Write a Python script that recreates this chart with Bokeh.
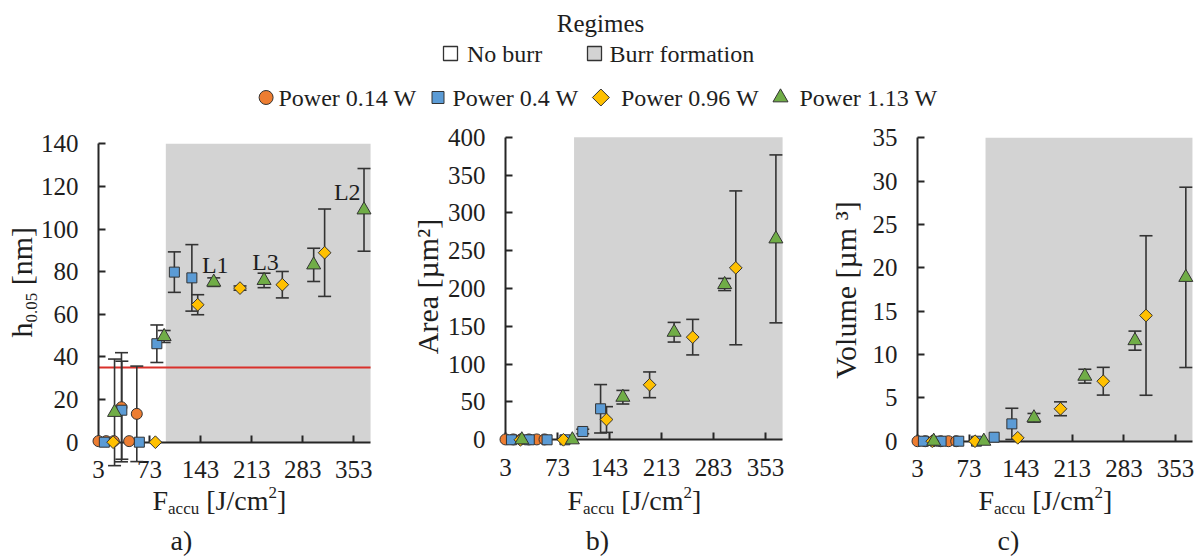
import numpy as np
from bokeh.plotting import figure
from bokeh.models import Range1d, FixedTicker
from bokeh.layouts import column, row
from bokeh.core.properties import value
from bokeh.embed import file_html
from bokeh.resources import INLINE

# ---------------- data ----------------
X_TICKS = [3, 73, 143, 213, 283, 353]
X_MIN, X_MAX = 3, 376
BURR_START = 95.3
H_THRESHOLD = 35

SERIES = ["Power 0.14 W", "Power 0.4 W", "Power 0.96 W", "Power 1.13 W"]
COLORS = ["#ED7D31", "#5B9BD5", "#FFC000", "#70AD47"]
REGIMES = ["No burr", "Burr formation"]

F_014 = [3, 13.5, 24, 34.5, 45, 55.5]
F_04 = [11, 35, 59, 83, 107, 131]
F_096 = [23, 81, 139, 197, 255, 313]
F_113 = [25, 93, 161, 230, 298, 367]

H_014 = [0.5, 0.5, 0.5, 16.4, 0.5, 13.3]
H_014_ERR = [0, 0, 0, 25.6, 0, 22.4]
H_04 = [0, 15, 0, 46.2, 79.8, 77.1]
H_04_ERR = [0, 23, 0, 8.8, 9.5, 15.6]
H_096 = [0, 0, 64.5, 72.3, 73.9, 88.9]
H_096_ERR = [0, 0, 4.7, 1, 6.2, 20.5]
H_113 = [14, 49.6, 75.1, 75.9, 83.2, 109]
H_113_ERR = [25, 2.8, 2, 3.4, 7.8, 19.4]

A_014 = [0.5, 0.5, 0.5, 0.5, 0.5, 0.5]
A_014_ERR = [0, 0, 0, 0, 0, 0]
A_04 = [0, 0, 0, 0, 11, 41]
A_04_ERR = [0, 0, 0, 0, 3, 32]
A_096 = [0, 0, 26.8, 72.7, 135.7, 227.3]
A_096_ERR = [0, 0, 17, 17, 23.5, 101.7]
A_113 = [0, 0, 56.3, 142.2, 205.3, 265.6]
A_113_ERR = [0, 0, 9, 13, 8, 111]

V_014 = [0, 0, 0, 0, 0, 0]
V_014_ERR = [0, 0, 0, 0, 0, 0]
V_04 = [0, 0, 0, 0, 0.46, 2.0]
V_04_ERR = [0, 0, 0, 0, 0, 1.8]
V_096 = [0, 0, 0.39, 3.74, 6.92, 14.5]
V_096_ERR = [0, 0, 0, 0.8, 1.6, 9.2]
V_113 = [0, 0, 2.7, 7.5, 11.6, 18.9]
V_113_ERR = [0, 0, 0.5, 0.8, 1.1, 10.4]

LABELS_L = ["L1", "L3", "L2"]
LABELS_L_X = [163, 232, 344]
LABELS_L_Y = [83, 84.5, 117.3]

# ---------------- style ----------------
FONT = "Liberation Serif"
TXT = "#1e1e1e"
AXC = "#262626"
GRAY = "#d3d3d3"
EDGE = "#333333"
NB = "\u00a0"
MID = 0.3375  # distance baseline -> em-box middle, in em
MARKERS = [dict(marker="circle", size=11, angle=0),
           dict(marker="square", size=10, angle=0),
           dict(marker="square", size=9, angle=np.pi / 4),
           dict(marker="triangle", size=14, angle=0)]

TOP_PX, BOT_PX = 125, 557
W = {'F': 556, 'a': 444, 'c': 444, 'u': 500, ' ': 250, NB: 250, '[': 333, 'J': 389, '/': 278,
     'm': 778, '2': 500, ']': 333, 'h': 500, '0': 500, '.': 250, '5': 500, 'n': 500}


def tw(s, size):
    return sum(W[c] for c in s) / 1000 * size


def make_panel(left, width, ax_px, x353_px, y0_px, ytop_px, ymax):
    kx = (x353_px - ax_px) / (353 - X_MIN)
    ky = (y0_px - ytop_px) / ymax

    def X(px):
        return X_MIN + (px - ax_px) / kx

    def Y(py):
        return (y0_px - py) / ky

    p = figure(width=width, height=BOT_PX - TOP_PX,
               x_range=Range1d(X(left), X(left + width)),
               y_range=Range1d(Y(BOT_PX), Y(TOP_PX)),
               output_backend="svg", toolbar_location=None, min_border=0)
    p.outline_line_color = None
    p.grid.visible = False
    p.background_fill_color = "white"
    p.quad(left=[BURR_START], right=[X_MAX], bottom=[0], top=[ymax],
           fill_color=GRAY, line_color=None)
    return p, X, Y


def style_axes(p, ymax, ystep):
    xa = p.xaxis[0]
    ya = p.yaxis[0]
    xa.fixed_location = 0
    ya.fixed_location = X_MIN
    xa.bounds = (X_MIN, X_MAX)
    ya.bounds = (0, ymax)
    xa.ticker = FixedTicker(ticks=X_TICKS)
    ya.ticker = FixedTicker(ticks=list(np.arange(0, ymax + ystep / 2, ystep)))
    for ax in (xa, ya):
        ax.axis_line_width = 2
        ax.axis_line_color = AXC
        ax.major_tick_in = 7
        ax.major_tick_out = 0
        ax.major_tick_line_width = 2
        ax.major_tick_line_color = AXC
        ax.minor_tick_in = 0
        ax.minor_tick_out = 0
        ax.major_label_text_font = FONT
        ax.major_label_text_font_size = "25px"
        ax.major_label_text_color = TXT
    xa.major_label_standoff = 19
    ya.major_label_standoff = 20


def draw_series(p, xs_list, ys_list, errs_list):
    for xs, ys, es in zip(xs_list, ys_list, errs_list):
        bx = [x for x, e in zip(xs, es) if e > 0]
        lo = [y - e for y, e in zip(ys, es) if e > 0]
        hi = [y + e for y, e in zip(ys, es) if e > 0]
        if bx:
            p.segment(x0=bx, x1=bx, y0=lo, y1=hi, line_color=EDGE, line_width=1.6,
                      level="annotation")
            p.scatter(x=bx + bx, y=lo + hi, marker="dash", size=13, line_color=EDGE,
                      line_width=1.6, level="annotation")
    for xs, ys, col, mk in zip(xs_list, ys_list, COLORS, MARKERS):
        p.scatter(x=xs, y=ys, marker=mk["marker"], size=mk["size"], angle=mk["angle"],
                  fill_color=col, line_color=EDGE, line_width=1, level="annotation")


def text(p, x, y, t, size, align="left", angle=0):
    p.text(x=[x], y=[y], text=[t], text_font=value(FONT), text_font_size=f"{size}px",
           text_align=align, text_baseline="middle", angle=angle, text_color=TXT)


def xlabel(p, X, Y, start_px, base_py):
    x = start_px
    for t, s, dy in [("F", 28, 0), ("accu", 17, 5), (NB + "[J/cm", 28, 0), ("2", 17, -11), ("]", 28, 0)]:
        text(p, X(x), Y(base_py + dy - MID * s), t, s)
        x += tw(t, s)


def caption(p, X, Y, cx, t):
    text(p, X(cx), Y(540), t, 28, align="center")


SERIES_X = [F_014, F_04, F_096, F_113]

# ---------------- panel a ----------------
pa, Xa, Ya = make_panel(0, 400, 98, 353.3, 441.7, 143.3, 140)
pa.segment(x0=[X_MIN], x1=[X_MAX], y0=[H_THRESHOLD], y1=[H_THRESHOLD],
           line_color="#d9312b", line_width=2)
style_axes(pa, 140, 20)
draw_series(pa, SERIES_X, [H_014, H_04, H_096, H_113],
            [H_014_ERR, H_04_ERR, H_096_ERR, H_113_ERR])
pa.text(x=LABELS_L_X, y=LABELS_L_Y, text=LABELS_L, text_font=value(FONT),
        text_font_size="24px", text_align="center", text_baseline="middle", text_color=TXT)
xlabel(pa, Xa, Ya, 152, 509)
caption(pa, Xa, Ya, 181, "a)")
ys_ = 337
base_x = 31.4
text(pa, Xa(base_x - MID * 30), Ya(ys_), "h", 30, angle=np.pi / 2)
ys_ -= tw("h", 30)
text(pa, Xa(base_x + 5 - MID * 17), Ya(ys_), "0.05", 17, angle=np.pi / 2)
ys_ -= tw("0.05", 17)
text(pa, Xa(base_x - MID * 30), Ya(ys_), NB + "[nm]", 30, angle=np.pi / 2)

# ---------------- panel b ----------------
pb, Xb, Yb = make_panel(400, 406, 505, 765, 439.3, 136.7, 400)
style_axes(pb, 400, 50)
draw_series(pb, SERIES_X, [A_014, A_04, A_096, A_113],
            [A_014_ERR, A_04_ERR, A_096_ERR, A_113_ERR])
xlabel(pb, Xb, Yb, 567, 509)
caption(pb, Xb, Yb, 597, "b)")
text(pb, Xb(427), Yb(286), "Area [µm²]", 30, align="center", angle=np.pi / 2)

# ---------------- panel c ----------------
pc, Xc, Yc = make_panel(806, 391, 917, 1175, 440.7, 137.3, 35)
style_axes(pc, 35, 5)
draw_series(pc, SERIES_X, [V_014, V_04, V_096, V_113],
            [V_014_ERR, V_04_ERR, V_096_ERR, V_113_ERR])
xlabel(pc, Xc, Yc, 978, 509)
caption(pc, Xc, Yc, 1008, "c)")
text(pc, Xc(844.5), Yc(289.5), "Volume [µm ³]", 30, align="center", angle=np.pi / 2)

# ---------------- legend ----------------
lg = figure(width=1197, height=TOP_PX, x_range=Range1d(0, 1197),
            y_range=Range1d(TOP_PX, 0), output_backend="svg",
            toolbar_location=None, min_border=0, x_axis_type=None, y_axis_type=None)
lg.outline_line_color = None
lg.grid.visible = False

text(lg, 600, 23, "Regimes", 25, align="center")
for (bx, tx), name, fill in zip([(450, 466.5), (594, 609)], REGIMES, ["white", GRAY]):
    lg.scatter(x=[bx], y=[53], marker="square", size=14, fill_color=fill,
               line_color=EDGE, line_width=1.3)
    text(lg, tx, 53, name, 24)

LEG_MK = [dict(marker="circle", size=14, angle=0), dict(marker="square", size=12, angle=0),
          dict(marker="square", size=12, angle=np.pi / 4), dict(marker="triangle", size=15, angle=0)]
for (mx, tx), name, col, mk in zip([(265.6, 278), (437.5, 452), (600.4, 620.5), (780, 799)],
                                   SERIES, COLORS, LEG_MK):
    lg.scatter(x=[mx], y=[97], marker=mk["marker"], size=mk["size"], angle=mk["angle"],
               fill_color=col, line_color=EDGE, line_width=1)
    text(lg, tx, 97, name, 24)

layout = column(lg, row(pa, pb, pc))
open("out.html", "w").write(file_html(layout, INLINE))
